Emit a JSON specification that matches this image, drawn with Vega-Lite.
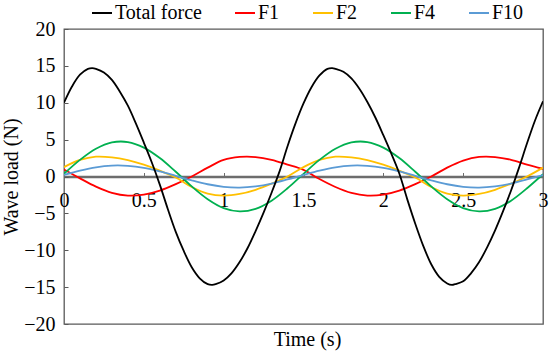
{
  "$schema": "https://vega.github.io/schema/vega-lite/v6.json",
  "width": 479,
  "height": 295,
  "autosize": {"type": "none"},
  "padding": {"left": 64, "top": 29, "right": 7, "bottom": 30},
  "background": "white",
  "config": {
    "font": "Liberation Serif",
    "view": {"stroke": "#595959", "strokeWidth": 1.3}
  },
  "data": {"values": [
    {"t":0,"v":0.95,"s":"F1"},{"t":0.1,"v":-0.25,"s":"F1"},{"t":0.2,"v":-1.37,"s":"F1"},{"t":0.3,"v":-2.21,"s":"F1"},{"t":0.4,"v":-2.59,"s":"F1"},{"t":0.5,"v":-2.46,"s":"F1"},{"t":0.6,"v":-1.91,"s":"F1"},{"t":0.7,"v":-1.04,"s":"F1"},{"t":0.8,"v":0,"s":"F1"},{"t":0.9,"v":1.2,"s":"F1"},{"t":1.0,"v":2.25,"s":"F1"},{"t":1.1,"v":2.65,"s":"F1"},{"t":1.2,"v":2.64,"s":"F1"},{"t":1.3,"v":2.27,"s":"F1"},{"t":1.4,"v":1.62,"s":"F1"},{"t":1.5,"v":0.9,"s":"F1"},{"t":1.6,"v":-0.35,"s":"F1"},{"t":1.7,"v":-1.43,"s":"F1"},{"t":1.8,"v":-2.23,"s":"F1"},{"t":1.9,"v":-2.59,"s":"F1"},{"t":2.0,"v":-2.46,"s":"F1"},{"t":2.1,"v":-1.91,"s":"F1"},{"t":2.2,"v":-1.04,"s":"F1"},{"t":2.3,"v":0,"s":"F1"},{"t":2.4,"v":1.2,"s":"F1"},{"t":2.5,"v":2.15,"s":"F1"},{"t":2.6,"v":2.65,"s":"F1"},{"t":2.7,"v":2.64,"s":"F1"},{"t":2.8,"v":2.27,"s":"F1"},{"t":2.9,"v":1.62,"s":"F1"},{"t":3.0,"v":1.05,"s":"F1"},
    {"t":0,"v":1.27,"s":"F2"},{"t":0.1,"v":2.24,"s":"F2"},{"t":0.2,"v":2.69,"s":"F2"},{"t":0.3,"v":2.6,"s":"F2"},{"t":0.4,"v":2.22,"s":"F2"},{"t":0.5,"v":1.6,"s":"F2"},{"t":0.6,"v":0.8,"s":"F2"},{"t":0.7,"v":-0.14,"s":"F2"},{"t":0.8,"v":-1.42,"s":"F2"},{"t":0.9,"v":-2.32,"s":"F2"},{"t":1.0,"v":-2.6,"s":"F2"},{"t":1.1,"v":-2.37,"s":"F2"},{"t":1.2,"v":-1.8,"s":"F2"},{"t":1.3,"v":-0.97,"s":"F2"},{"t":1.4,"v":0,"s":"F2"},{"t":1.5,"v":1.27,"s":"F2"},{"t":1.6,"v":2.24,"s":"F2"},{"t":1.7,"v":2.69,"s":"F2"},{"t":1.8,"v":2.6,"s":"F2"},{"t":1.9,"v":2.22,"s":"F2"},{"t":2.0,"v":1.6,"s":"F2"},{"t":2.1,"v":0.8,"s":"F2"},{"t":2.2,"v":-0.14,"s":"F2"},{"t":2.3,"v":-1.42,"s":"F2"},{"t":2.4,"v":-2.32,"s":"F2"},{"t":2.5,"v":-2.6,"s":"F2"},{"t":2.6,"v":-2.37,"s":"F2"},{"t":2.7,"v":-1.8,"s":"F2"},{"t":2.8,"v":-0.97,"s":"F2"},{"t":2.9,"v":0,"s":"F2"},{"t":3.0,"v":1.2,"s":"F2"},
    {"t":0,"v":0.36,"s":"F4"},{"t":0.1,"v":2.25,"s":"F4"},{"t":0.2,"v":3.76,"s":"F4"},{"t":0.3,"v":4.62,"s":"F4"},{"t":0.4,"v":4.67,"s":"F4"},{"t":0.5,"v":3.92,"s":"F4"},{"t":0.6,"v":2.5,"s":"F4"},{"t":0.7,"v":0.64,"s":"F4"},{"t":0.8,"v":-1.34,"s":"F4"},{"t":0.9,"v":-3.07,"s":"F4"},{"t":1.0,"v":-4.28,"s":"F4"},{"t":1.1,"v":-4.74,"s":"F4"},{"t":1.2,"v":-4.39,"s":"F4"},{"t":1.3,"v":-3.28,"s":"F4"},{"t":1.4,"v":-1.6,"s":"F4"},{"t":1.5,"v":0.36,"s":"F4"},{"t":1.6,"v":2.25,"s":"F4"},{"t":1.7,"v":3.76,"s":"F4"},{"t":1.8,"v":4.62,"s":"F4"},{"t":1.9,"v":4.67,"s":"F4"},{"t":2.0,"v":3.92,"s":"F4"},{"t":2.1,"v":2.5,"s":"F4"},{"t":2.2,"v":0.64,"s":"F4"},{"t":2.3,"v":-1.34,"s":"F4"},{"t":2.4,"v":-3.07,"s":"F4"},{"t":2.5,"v":-4.28,"s":"F4"},{"t":2.6,"v":-4.74,"s":"F4"},{"t":2.7,"v":-4.39,"s":"F4"},{"t":2.8,"v":-3.28,"s":"F4"},{"t":2.9,"v":-1.6,"s":"F4"},{"t":3.0,"v":0.3,"s":"F4"},
    {"t":0,"v":0.22,"s":"F10"},{"t":0.1,"v":0.8,"s":"F10"},{"t":0.2,"v":1.25,"s":"F10"},{"t":0.3,"v":1.48,"s":"F10"},{"t":0.4,"v":1.45,"s":"F10"},{"t":0.5,"v":1.18,"s":"F10"},{"t":0.6,"v":0.69,"s":"F10"},{"t":0.7,"v":0.09,"s":"F10"},{"t":0.8,"v":-0.52,"s":"F10"},{"t":0.9,"v":-1.05,"s":"F10"},{"t":1.0,"v":-1.4,"s":"F10"},{"t":1.1,"v":-1.5,"s":"F10"},{"t":1.2,"v":-1.34,"s":"F10"},{"t":1.3,"v":-0.96,"s":"F10"},{"t":1.4,"v":-0.4,"s":"F10"},{"t":1.5,"v":0.22,"s":"F10"},{"t":1.6,"v":0.8,"s":"F10"},{"t":1.7,"v":1.25,"s":"F10"},{"t":1.8,"v":1.48,"s":"F10"},{"t":1.9,"v":1.45,"s":"F10"},{"t":2.0,"v":1.18,"s":"F10"},{"t":2.1,"v":0.69,"s":"F10"},{"t":2.2,"v":0.09,"s":"F10"},{"t":2.3,"v":-0.52,"s":"F10"},{"t":2.4,"v":-1.05,"s":"F10"},{"t":2.5,"v":-1.4,"s":"F10"},{"t":2.6,"v":-1.5,"s":"F10"},{"t":2.7,"v":-1.34,"s":"F10"},{"t":2.8,"v":-0.96,"s":"F10"},{"t":2.9,"v":-0.4,"s":"F10"},{"t":3.0,"v":0.2,"s":"F10"},
    {"t":0,"v":10.0,"s":"Total force"},{"t":0.05,"v":12.2,"s":"Total force"},{"t":0.1,"v":13.8,"s":"Total force"},{"t":0.15,"v":14.6,"s":"Total force"},{"t":0.177,"v":14.7,"s":"Total force"},{"t":0.2,"v":14.6,"s":"Total force"},{"t":0.25,"v":14.1,"s":"Total force"},{"t":0.3,"v":13.1,"s":"Total force"},{"t":0.35,"v":11.5,"s":"Total force"},{"t":0.4,"v":9.6,"s":"Total force"},{"t":0.45,"v":7.2,"s":"Total force"},{"t":0.5,"v":4.6,"s":"Total force"},{"t":0.55,"v":1.9,"s":"Total force"},{"t":0.6,"v":-1.1,"s":"Total force"},{"t":0.65,"v":-4.4,"s":"Total force"},{"t":0.7,"v":-7.5,"s":"Total force"},{"t":0.75,"v":-10.1,"s":"Total force"},{"t":0.8,"v":-12.3,"s":"Total force"},{"t":0.85,"v":-13.8,"s":"Total force"},{"t":0.9,"v":-14.6,"s":"Total force"},{"t":0.928,"v":-14.7,"s":"Total force"},{"t":0.95,"v":-14.6,"s":"Total force"},{"t":1.0,"v":-14.1,"s":"Total force"},{"t":1.05,"v":-13.1,"s":"Total force"},{"t":1.1,"v":-11.6,"s":"Total force"},{"t":1.15,"v":-9.7,"s":"Total force"},{"t":1.2,"v":-7.4,"s":"Total force"},{"t":1.25,"v":-4.9,"s":"Total force"},{"t":1.3,"v":-2.2,"s":"Total force"},{"t":1.35,"v":0.7,"s":"Total force"},{"t":1.4,"v":4.1,"s":"Total force"},{"t":1.45,"v":7.2,"s":"Total force"},{"t":1.5,"v":9.9,"s":"Total force"},{"t":1.55,"v":12.1,"s":"Total force"},{"t":1.6,"v":13.7,"s":"Total force"},{"t":1.65,"v":14.6,"s":"Total force"},{"t":1.68,"v":14.7,"s":"Total force"},{"t":1.7,"v":14.6,"s":"Total force"},{"t":1.75,"v":14.2,"s":"Total force"},{"t":1.8,"v":13.3,"s":"Total force"},{"t":1.85,"v":11.9,"s":"Total force"},{"t":1.9,"v":10.1,"s":"Total force"},{"t":1.95,"v":8.0,"s":"Total force"},{"t":2.0,"v":5.6,"s":"Total force"},{"t":2.05,"v":3.1,"s":"Total force"},{"t":2.1,"v":0.4,"s":"Total force"},{"t":2.15,"v":-3.1,"s":"Total force"},{"t":2.2,"v":-6.4,"s":"Total force"},{"t":2.25,"v":-9.4,"s":"Total force"},{"t":2.3,"v":-11.9,"s":"Total force"},{"t":2.35,"v":-13.6,"s":"Total force"},{"t":2.4,"v":-14.5,"s":"Total force"},{"t":2.43,"v":-14.7,"s":"Total force"},{"t":2.45,"v":-14.6,"s":"Total force"},{"t":2.5,"v":-14.2,"s":"Total force"},{"t":2.55,"v":-13.1,"s":"Total force"},{"t":2.6,"v":-11.6,"s":"Total force"},{"t":2.65,"v":-9.6,"s":"Total force"},{"t":2.7,"v":-7.3,"s":"Total force"},{"t":2.75,"v":-4.7,"s":"Total force"},{"t":2.8,"v":-1.9,"s":"Total force"},{"t":2.85,"v":1.2,"s":"Total force"},{"t":2.9,"v":4.5,"s":"Total force"},{"t":2.95,"v":7.6,"s":"Total force"},{"t":3.0,"v":10.2,"s":"Total force"}
  ]},
  "mark": {"type": "line", "interpolate": "catmull-rom", "strokeWidth": 1.8, "clip": true},
  "encoding": {
    "x": {
      "field": "t", "type": "quantitative",
      "scale": {"domain": [0, 3], "nice": false, "zero": false},
      "axis": {
        "title": "Time (s)", "values": [0, 0.5, 1, 1.5, 2, 2.5, 3], "format": "~g",
        "offset": -147.5, "grid": false,
        "domainColor": "#6d6d6d", "domainWidth": 2.5,
        "tickColor": "#6d6d6d", "tickSize": -4, "tickWidth": 1,
        "labelPadding": 18, "labelFontSize": 20, "labelColor": "#000", "labelFlush": false,
        "titleFontSize": 20, "titleFontWeight": "normal", "titleColor": "#000",
        "titleX": 243, "titleY": 169, "titleBaseline": "alphabetic"
      }
    },
    "y": {
      "field": "v", "type": "quantitative",
      "scale": {"domain": [-20, 20], "nice": false},
      "axis": {
        "title": "Wave load (N)", "values": [-20, -15, -10, -5, 0, 5, 10, 15, 20], "format": "~g",
        "grid": false, "domain": false,
        "tickColor": "#595959", "tickSize": -4, "tickWidth": 1,
        "labelPadding": 13, "labelFontSize": 20, "labelColor": "#000",
        "titleFontSize": 20, "titleFontWeight": "normal", "titleColor": "#000",
        "titleX": -47, "titleBaseline": "alphabetic"
      }
    },
    "color": {
      "field": "s", "type": "nominal",
      "scale": {"domain": ["Total force", "F1", "F2", "F4", "F10"], "range": ["#000000", "#FF0000", "#FFC000", "#00B050", "#5B9BD5"]},
      "legend": {
        "orient": "none", "legendX": 27, "legendY": -27, "direction": "horizontal", "title": null,
        "symbolType": "stroke", "symbolSize": 400, "symbolStrokeWidth": 2,
        "labelFontSize": 20, "labelOffset": 2, "columnPadding": 29, "labelColor": "#000"
      }
    }
  }
}
